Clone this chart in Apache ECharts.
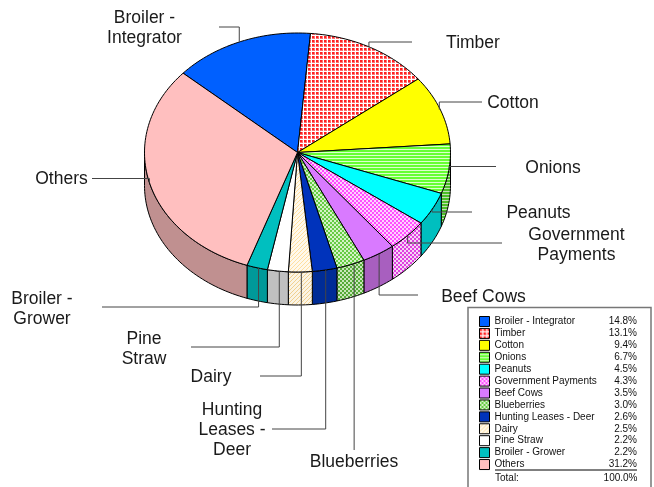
<!DOCTYPE html>
<html>
<head>
<meta charset="utf-8">
<style>html,body{margin:0;padding:0;background:#fff}#c{width:654px;height:487px}</style>
<script src="https://cdn.jsdelivr.net/npm/echarts@6/dist/echarts.min.js"></script>
</head>
<body>
<div id="c"></div>
<script>
var categories = ['Broiler - Integrator','Timber','Cotton','Onions','Peanuts','Government Payments','Beef Cows','Blueberries','Hunting Leases - Deer','Dairy','Pine Straw','Broiler - Grower','Others'];
var shares = [14.8,13.1,9.4,6.7,4.5,4.3,3.5,3.0,2.6,2.5,2.2,2.2,31.2];
var totalLabel = 'Total:';
var totalValue = 100.0;

// Label text as broken on the picture
var labelText = ['Broiler -\nIntegrator','Timber','Cotton','Onions','Peanuts','Government\nPayments','Beef Cows','Blueberries','Hunting\nLeases -\nDeer','Dairy','Pine\nStraw','Broiler -\nGrower','Others'];

// Leader elbow (turn to: y, then run to: x), anchor nudge and label centre
var leaderLayout = [
  {y:27,   x:219, dx:-1.5,lx:144.5, ly:28.5},
  {y:42,   x:412, dx:-1.5,lx:473,   ly:43},
  {y:102,  x:482, dx:-1,  lx:513,   ly:103},
  {y:166.5,x:496, dx:0,   lx:553,   ly:168},
  {y:212,  x:472, dx:-0.5,lx:538.5, ly:213},
  {y:243,  x:502, dx:0,   lx:576.5, ly:245.5},
  {y:295,  x:418, dx:0.5, lx:483.5, ly:297},
  {y:450,  x:null,dx:3.5, lx:354,   ly:462},
  {y:429,  x:272, dx:1,   lx:232,   ly:430.5},
  {y:376,  x:260, dx:1,   lx:211,   ly:377},
  {y:347,  x:191, dx:1.5, lx:144,   ly:349},
  {y:307,  x:102, dx:1.5, lx:42,    ly:309},
  {y:178.5,x:92,  dx:0,   lx:61.5,  ly:179}
];

// Pie geometry on the page
var cx = 297.5, cy = 152.5, rx = 153, ry = 119.5, depth = 33, startDeg = -48.4;

function pat(w, rows, colors) {
  var c = document.createElement('canvas');
  c.width = w; c.height = rows.length;
  var g = c.getContext('2d');
  rows.forEach(function (r, y) {
    for (var x = 0; x < w; x++) { g.fillStyle = colors[r[x]]; g.fillRect(x, y, 1, 1); }
  });
  return {image: c, repeat: 'repeat'};
}
var gridRows = ['rrpw','rrpw','pppw','wwww'];
var stripeRows = ['g','g','w'];
var checkRows = ['ccww','ccww','wwcc','wwcc'];
var hatchRows = ['wwwc','wwcw','wcww','cwww'];
var topFill = [
  '#0060ff',
  pat(4, gridRows, {r:'#ff2020', p:'#ff7070', w:'#ffffff'}),
  '#ffff00',
  pat(1, stripeRows, {g:'#66ff33', w:'#dcffcc'}),
  '#00ffff',
  pat(4, checkRows, {c:'#ff4dff', w:'#ffd0ff'}),
  '#d97aff',
  pat(4, checkRows, {c:'#66cc44', w:'#d4f2c6'}),
  '#0033bb',
  pat(4, hatchRows, {c:'#ffdf9f', w:'#fff9ec'}),
  '#ffffff',
  '#00bfbf',
  '#ffbfbf'
];
var wallFill = [
  '#0048bf',
  '#bf1818',
  '#bfbf00',
  pat(1, stripeRows, {g:'#4cbf26', w:'#c3dfb8'}),
  '#00bfbf',
  pat(4, checkRows, {c:'#e040e0', w:'#f5d6f5'}),
  '#a85fbf',
  pat(4, checkRows, {c:'#55aa38', w:'#c8e6ba'}),
  '#002c96',
  pat(4, hatchRows, {c:'#f0d090', w:'#fbf4e4'}),
  '#c0c0c0',
  '#009999',
  '#c09090'
];

var sum = shares.reduce(function (a, b) { return a + b; }, 0);
var cum = 0;
var arcs = shares.map(function (v) {
  var a = startDeg + cum / sum * 360;
  cum += v;
  return [a, startDeg + cum / sum * 360];
});
function pt(deg, dy) {
  var t = deg * Math.PI / 180;
  return [cx + rx * Math.sin(t), cy - ry * Math.cos(t) + (dy || 0)];
}
function arcPts(a, b, dy) {
  var n = Math.max(2, Math.ceil(Math.abs(b - a) / 1.5)), out = [];
  for (var i = 0; i <= n; i++) out.push(pt(a + (b - a) * i / n, dy));
  return out;
}

function sliceItem(i) {
  return function () {
    var a = arcs[i][0], b = arcs[i][1], children = [];
    // front wall: only the part facing the viewer (90..270 deg clockwise from top)
    var lo = Math.max(a, 90), hi = Math.min(b, 270);
    if (hi > lo) {
      children.push({
        type: 'polygon', z2: 1,
        shape: {points: arcPts(lo, hi, 0).concat(arcPts(hi, lo, depth))},
        style: {fill: wallFill[i], stroke: '#000', lineWidth: 1, lineJoin: 'round'}, silent: true
      });
    }
    children.push({
      type: 'polygon', z2: 2,
      shape: {points: [[cx, cy]].concat(arcPts(a, b, 0))},
      style: {fill: topFill[i], stroke: '#000', lineWidth: 1, lineJoin: 'round'}, silent: true
    });
    var L = leaderLayout[i], p = pt((a + b) / 2, 0);
    var ax = p[0] + L.dx;
    var pts = [[ax, p[1]], [ax, L.y]];
    if (L.x !== null) pts.push([L.x, L.y]);
    children.push({
      type: 'polyline', z2: 3,
      shape: {points: pts},
      style: {fill: 'none', stroke: '#444', lineWidth: 1}, silent: true
    });
    children.push({
      type: 'text', z2: 4, x: L.lx, y: L.ly, silent: true,
      style: {text: labelText[i], fill: '#1a1a1a', font: '17.5px "Liberation Sans", Arial, sans-serif',
              align: 'center', verticalAlign: 'middle', lineHeight: 20}
    });
    return {type: 'group', children: children};
  };
}

var legendFont = '"Liberation Sans", Arial, sans-serif';
var series = categories.map(function (name, i) {
  return {
    name: name, type: 'custom', coordinateSystem: 'none',
    data: [shares[i]], renderItem: sliceItem(i), silent: true, animation: false,
    itemStyle: {color: topFill[i]}
  };
});

var chart = echarts.init(document.getElementById('c'), null, {renderer: 'canvas'});
chart.setOption({
  animation: false,
  backgroundColor: '#fff',
  tooltip: {show: false},
  legend: {
    orient: 'vertical', left: 479, top: 316, padding: 0,
    itemWidth: 10, itemHeight: 10, itemGap: 0.92, selectedMode: false,
    icon: 'rect',
    data: categories.map(function (n, i) {
      return {name: n, itemStyle: {color: topFill[i], borderColor: '#000', borderWidth: 1}};
    }),
    formatter: function (n) {
      return '{n|' + n + '}{v|' + shares[categories.indexOf(n)].toFixed(1) + '%}';
    },
    textStyle: {
      fontFamily: legendFont, fontSize: 10, color: '#111',
      rich: {
        n: {width: 104, fontFamily: legendFont, fontSize: 10, height: 10, color: '#111'},
        v: {width: 38.5, align: 'right', fontFamily: legendFont, fontSize: 10, height: 10, color: '#111'}
      }
    },
    itemStyle: {borderColor: '#000', borderWidth: 1}
  },
  series: series,
  graphic: [
    {type: 'rect', z: -1, silent: true, shape: {x: 468, y: 307.5, width: 183, height: 200},
     style: {fill: '#fff', stroke: '#777', lineWidth: 1.5}},
    {type: 'line', silent: true, shape: {x1: 495, y1: 470, x2: 637, y2: 470},
     style: {stroke: '#000', lineWidth: 1}},
    {type: 'text', silent: true, x: 495, y: 478.5,
     style: {text: totalLabel, font: '10px ' + legendFont, fill: '#111', align: 'left', verticalAlign: 'middle'}},
    {type: 'text', silent: true, x: 637.5, y: 478.5,
     style: {text: totalValue.toFixed(1) + '%', font: '10px ' + legendFont, fill: '#111', align: 'right', verticalAlign: 'middle'}}
  ]
});
</script>
</body>
</html>
